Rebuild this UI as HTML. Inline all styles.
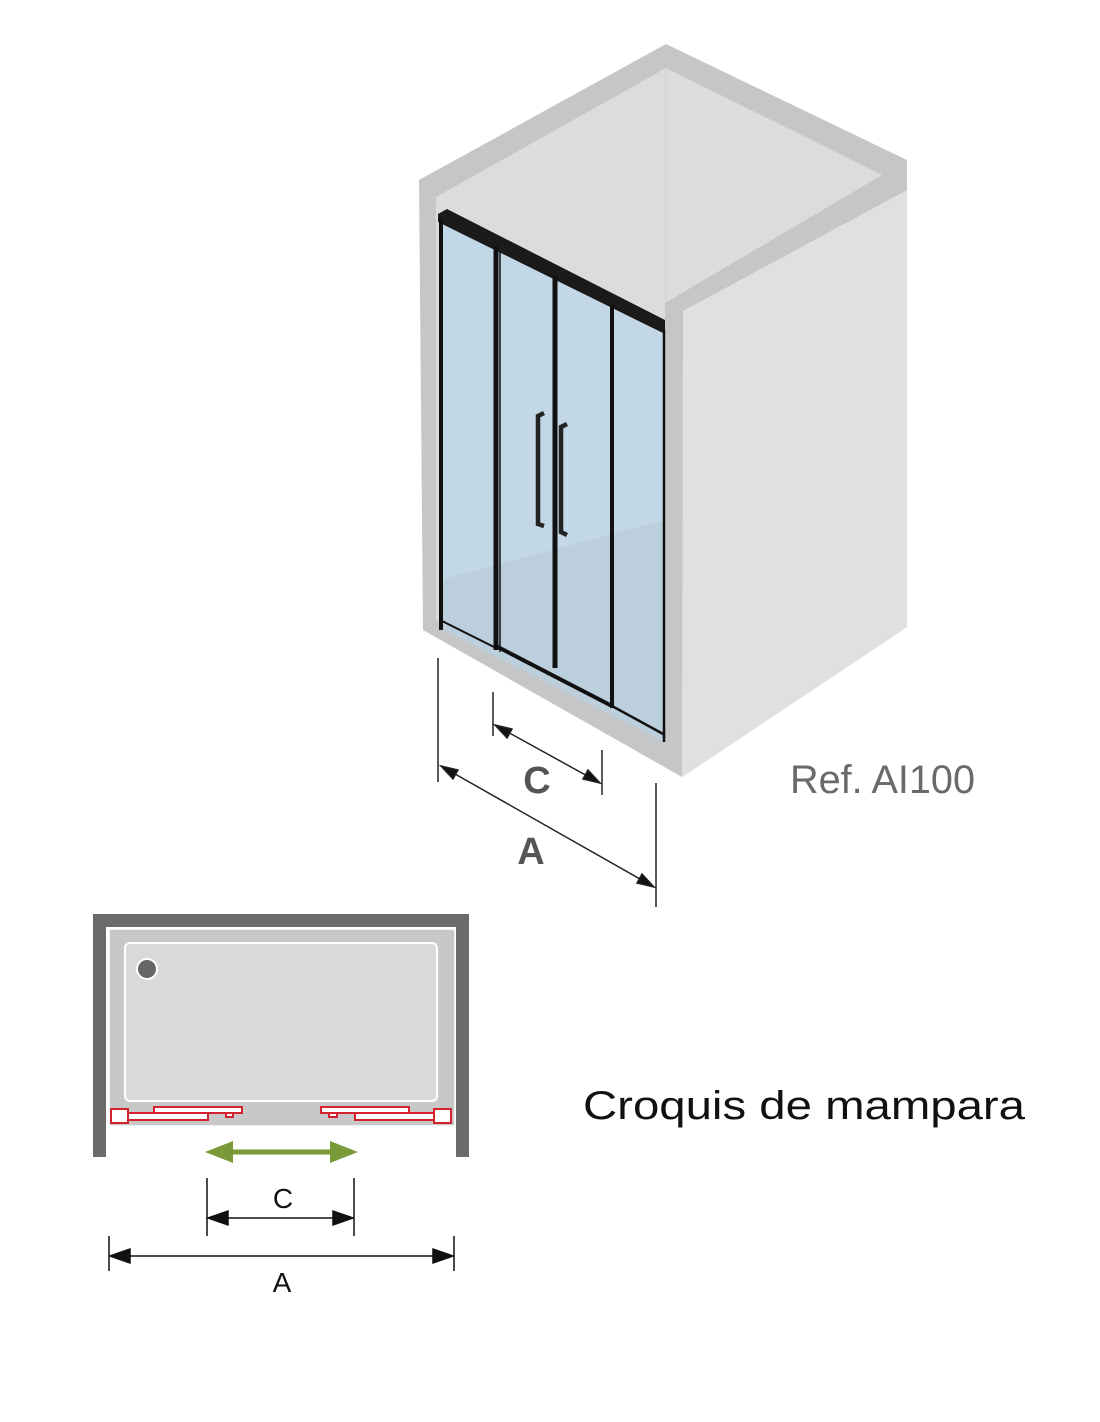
<!DOCTYPE html>
<html><head><meta charset="utf-8"><style>html,body{margin:0;padding:0;background:#fff}svg{display:block}</style></head>
<body>
<svg width="1100" height="1422" viewBox="0 0 1100 1422" xmlns="http://www.w3.org/2000/svg">
<polygon points="419,180 666,44 907,160 907,627 682,777 423,630" fill="#c5c6c8"/>
<polygon points="436,197 666,68 882,175 665,303 665,740 436,620" fill="#dcdcdc"/>
<line x1="666" y1="68" x2="666" y2="303" stroke="#d2d2d2" stroke-width="1"/>
<polygon points="683,311 907,190 907,627 682,777" fill="#dfe0df"/>
<polygon points="440,222 665,334 665,742 440,628" fill="#c2d8e6"/>
<polygon points="440,580 665,520 665,742 440,628" fill="#b8ccd8" opacity="0.7"/>
<polygon points="438,214 447,209 665,320 665,334 438,222" fill="#1a1a1a"/>
<line x1="441" y1="218" x2="441" y2="630" stroke="#111" stroke-width="4"/>
<line x1="496" y1="246" x2="496" y2="650" stroke="#111" stroke-width="5"/>
<line x1="500" y1="250" x2="500" y2="652" stroke="#111" stroke-width="1.5"/>
<line x1="555" y1="276" x2="555" y2="668" stroke="#111" stroke-width="5"/>
<line x1="612" y1="305" x2="612" y2="708" stroke="#111" stroke-width="4"/>
<line x1="664" y1="330" x2="664" y2="742" stroke="#111" stroke-width="2.5"/>
<line x1="440" y1="620" x2="496" y2="648" stroke="#111" stroke-width="2"/>
<line x1="496" y1="646" x2="612" y2="706" stroke="#111" stroke-width="4"/>
<line x1="612" y1="706" x2="665" y2="735" stroke="#111" stroke-width="2.5"/>
<path d="M544,413 L538,416 L538,524 L544,526" fill="none" stroke="#222" stroke-width="4.5"/>
<path d="M567,424 L561,427 L561,532 L567,535" fill="none" stroke="#222" stroke-width="4.5"/>
<g stroke="#222" stroke-width="1.5" fill="#111">
<line x1="438" y1="658" x2="438" y2="782"/>
<line x1="656" y1="783" x2="656" y2="907"/>
<line x1="441" y1="766" x2="654" y2="887"/>
<polygon points="441,766 458,770 453,779"/>
<polygon points="654,887 637,883 642,874"/>
<line x1="493" y1="692" x2="493" y2="736"/>
<line x1="602" y1="750" x2="602" y2="795"/>
<line x1="495" y1="725" x2="600" y2="783"/>
<polygon points="495,725 512,729 507,738"/>
<polygon points="600,783 583,779 588,770"/>
</g>
<text x="537" y="793" font-family="Liberation Sans, sans-serif" font-weight="bold" font-size="38" fill="#555" text-anchor="middle">C</text>
<text x="531" y="864" font-family="Liberation Sans, sans-serif" font-weight="bold" font-size="38" fill="#555" text-anchor="middle">A</text>
<text x="790" y="793" font-family="Liberation Sans Narrow, Liberation Sans, sans-serif" font-size="40" fill="#6a6a6a" textLength="185" lengthAdjust="spacingAndGlyphs">Ref. AI100</text>
<rect x="93" y="914" width="376" height="13" fill="#6b6b6b"/>
<rect x="93" y="914" width="13" height="243" fill="#6b6b6b"/>
<rect x="456" y="914" width="13" height="243" fill="#6b6b6b"/>
<rect x="109" y="929" width="346" height="197" fill="#c8c8c8" stroke="#fff" stroke-width="1.5"/>
<rect x="125" y="943" width="312" height="158" rx="5" fill="#d9d9d9" stroke="#fff" stroke-width="2"/>
<circle cx="147" cy="969" r="10" fill="#666" stroke="#fff" stroke-width="2"/>
<g fill="#fff" stroke="#d4232e" stroke-width="2">
<rect x="154" y="1107" width="88" height="6"/>
<rect x="128" y="1113" width="80" height="7"/>
<rect x="111" y="1109" width="17" height="14"/>
<rect x="226" y="1113" width="7" height="4"/>
<rect x="321" y="1107" width="88" height="6"/>
<rect x="355" y="1113" width="79" height="7"/>
<rect x="434" y="1109" width="17" height="14"/>
<rect x="329" y="1113" width="8" height="4"/>
</g>
<line x1="220" y1="1152" x2="344" y2="1152" stroke="#7a9a3a" stroke-width="5"/>
<polygon points="205,1152 233,1141 233,1163" fill="#7a9a3a"/>
<polygon points="358,1152 330,1141 330,1163" fill="#7a9a3a"/>
<g stroke="#111" stroke-width="1.5" fill="#111">
<line x1="207" y1="1178" x2="207" y2="1236"/>
<line x1="354" y1="1178" x2="354" y2="1236"/>
<line x1="209" y1="1218" x2="352" y2="1218"/>
<polygon points="208,1218 228,1211 228,1225"/>
<polygon points="353,1218 333,1211 333,1225"/>
<line x1="109" y1="1236" x2="109" y2="1271"/>
<line x1="454" y1="1236" x2="454" y2="1271"/>
<line x1="111" y1="1256" x2="452" y2="1256"/>
<polygon points="110,1256 130,1249 130,1263"/>
<polygon points="453,1256 433,1249 433,1263"/>
</g>
<text x="283" y="1208" font-family="Liberation Sans, sans-serif" font-size="28" fill="#111" text-anchor="middle">C</text>
<text x="282" y="1292" font-family="Liberation Sans, sans-serif" font-size="28" fill="#111" text-anchor="middle">A</text>
<text x="583" y="1119" font-family="Liberation Sans, sans-serif" font-size="40" fill="#111" textLength="442" lengthAdjust="spacingAndGlyphs">Croquis de mampara</text>
</svg>
</body></html>
